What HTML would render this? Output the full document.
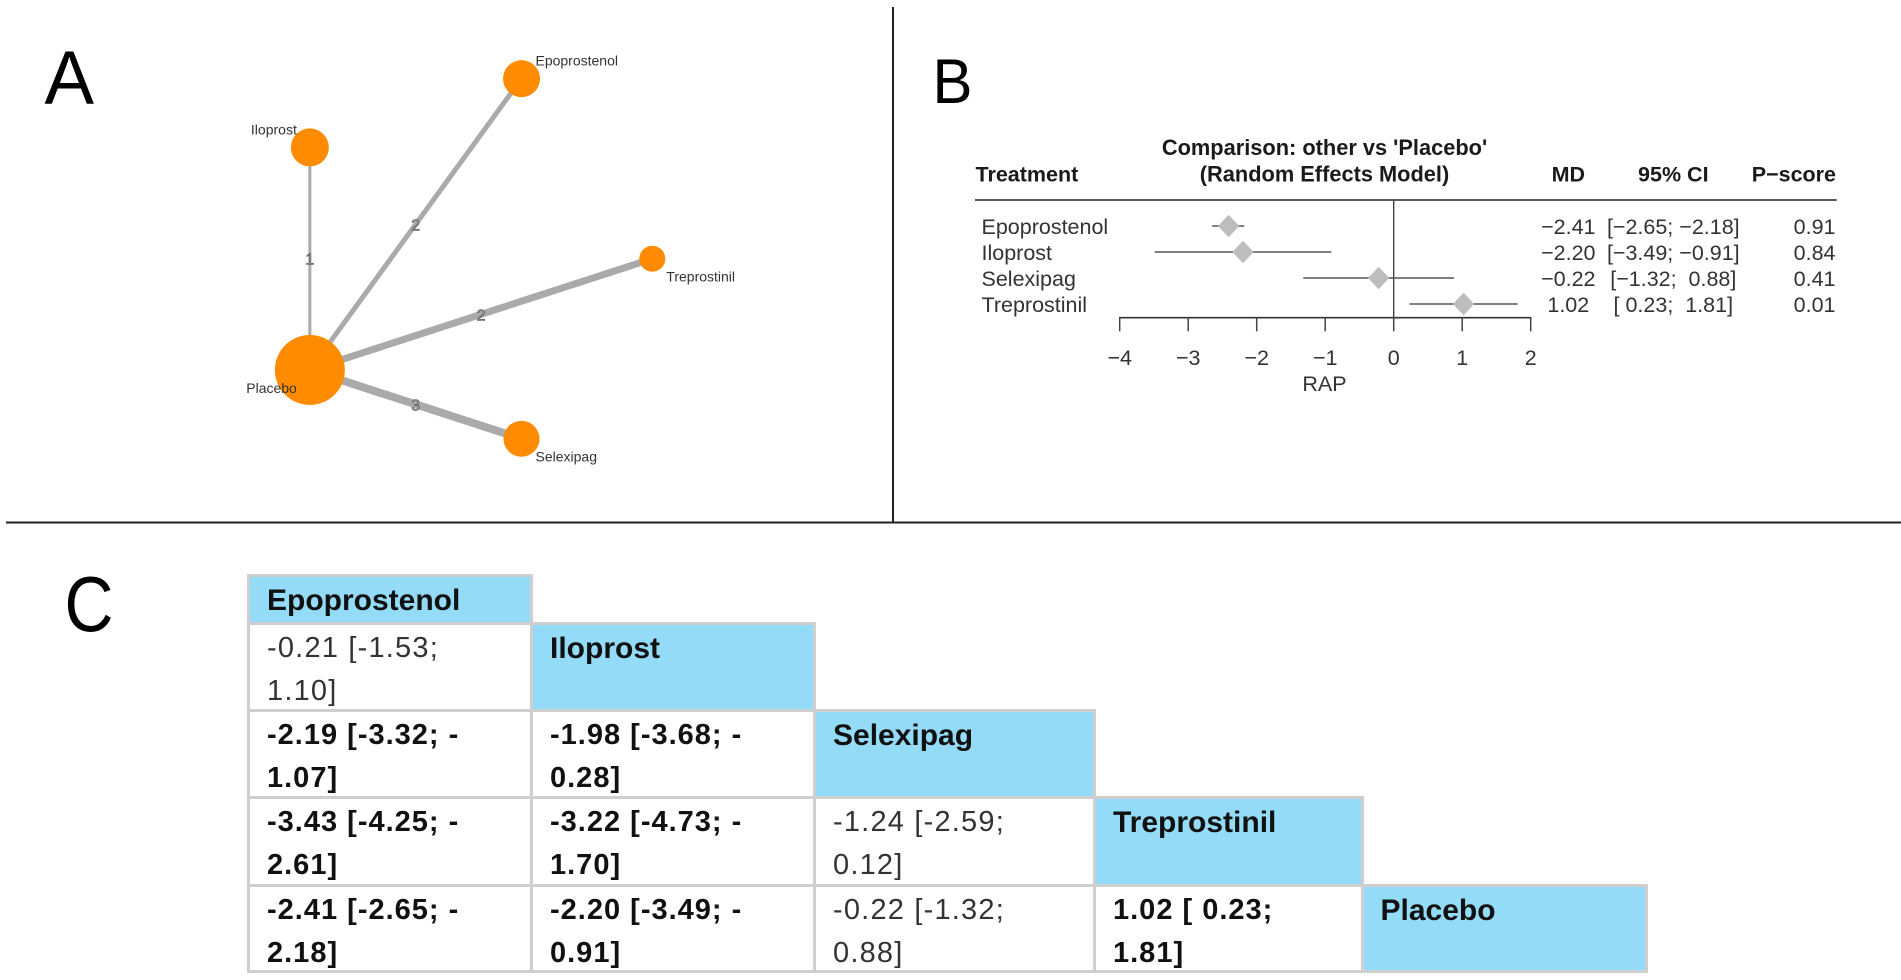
<!DOCTYPE html>
<html lang="en">
<head>
<meta charset="utf-8">
<title>Network meta-analysis of RAP</title>
<style>
  html, body { margin: 0; padding: 0; background: #fff; }
  body { width: 1901px; height: 980px; overflow: hidden; position: relative; font-family: "Liberation Sans", sans-serif; }
  #figure { position: absolute; left: 0; top: 0; filter: blur(0.35px); }
  #league {
    position: absolute; left: 247px; top: 574px; border-collapse: collapse; table-layout: fixed;
    width: 1397.5px; font-size: 29px; line-height: 43.3px; color: #333; letter-spacing: 1.2px; filter: blur(0.35px);
  }
  #league td { padding: 2px 0 0 17px; vertical-align: top; border: 3px solid #cfcfcf; box-sizing: border-box; white-space: nowrap; }
  #league td > span { display: block; height: 40px; overflow: visible; }
  #league td.blank { border: none; }
  #league td.head { background: #93dbf7; font-weight: bold; color: #111; font-size: 30px; letter-spacing: 0; }
  #league td.sig { font-weight: bold; color: #111; letter-spacing: 1px; }
</style>
</head>
<body>
<svg id="figure" width="1901" height="980" viewBox="0 0 1901 980" font-family="'Liberation Sans', sans-serif">
  <line x1="893" y1="7" x2="893" y2="523" stroke="#222" stroke-width="2"/>
  <line x1="6" y1="522.5" x2="1901" y2="522.5" stroke="#222" stroke-width="2"/>
  <text x="44.5" y="104" font-size="76.4" fill="#000" textLength="49.5" lengthAdjust="spacingAndGlyphs">A</text>
  <text x="932.5" y="103" font-size="63" fill="#000" textLength="40" lengthAdjust="spacingAndGlyphs">B</text>
  <text x="64.5" y="631" font-size="78" fill="#000" textLength="49" lengthAdjust="spacingAndGlyphs">C</text>
  <g id="network"></g>
  <g id="forest"></g>
</svg>

<table id="league">
  <colgroup><col style="width:283px"><col style="width:283px"><col style="width:280px"><col style="width:267.5px"><col style="width:284px"></colgroup>
  <tr style="height:48px">
    <td class="head"><span>Epoprostenol</span></td><td class="blank"></td><td class="blank"></td><td class="blank"></td><td class="blank"></td>
  </tr>
  <tr style="height:87px">
    <td><span>-0.21 [-1.53;<br>1.10]</span></td><td class="head"><span>Iloprost</span></td><td class="blank"></td><td class="blank"></td><td class="blank"></td>
  </tr>
  <tr style="height:87px">
    <td class="sig"><span>-2.19 [-3.32; -<br>1.07]</span></td><td class="sig"><span>-1.98 [-3.68; -<br>0.28]</span></td><td class="head"><span>Selexipag</span></td><td class="blank"></td><td class="blank"></td>
  </tr>
  <tr style="height:88px">
    <td class="sig"><span>-3.43 [-4.25; -<br>2.61]</span></td><td class="sig"><span>-3.22 [-4.73; -<br>1.70]</span></td><td><span>-1.24 [-2.59;<br>0.12]</span></td><td class="head"><span>Treprostinil</span></td><td class="blank"></td>
  </tr>
  <tr style="height:86px">
    <td class="sig"><span>-2.41 [-2.65; -<br>2.18]</span></td><td class="sig"><span>-2.20 [-3.49; -<br>0.91]</span></td><td><span>-0.22 [-1.32;<br>0.88]</span></td><td class="sig"><span>1.02 [ 0.23;<br>1.81]</span></td><td class="head"><span>Placebo</span></td>
  </tr>
</table>

<script>
// Network graph data (nodes sit on a circle in this order)
var networkNodes = ['Treprostinil', 'Epoprostenol', 'Iloprost', 'Placebo', 'Selexipag'];
var nodeSizes = [13, 18.5, 19, 35, 18];
var edgeTargets = ['Iloprost', 'Epoprostenol', 'Treprostinil', 'Selexipag'];
var edgeStudies = [1, 2, 2, 3];
var edgeWeights = [3, 5, 7, 8];
var hubNode = 'Placebo';

// Forest plot data
var forestTreatments = ['Epoprostenol', 'Iloprost', 'Selexipag', 'Treprostinil'];
var forestMD = [-2.41, -2.20, -0.22, 1.02];
var forestLower = [-2.65, -3.49, -1.32, 0.23];
var forestUpper = [-2.18, -0.91, 0.88, 1.81];
var forestPScore = [0.91, 0.84, 0.41, 0.01];
var axisTicks = [-4, -3, -2, -1, 0, 1, 2];

var SVGNS = 'http://www.w3.org/2000/svg';
function mk(parent, tag, attrs, txt) {
  var el = document.createElementNS(SVGNS, tag);
  for (var k in attrs) { el.setAttribute(k, attrs[k]); }
  if (txt !== undefined) { el.textContent = txt; }
  parent.appendChild(el);
  return el;
}
function slug(s) { return s.toLowerCase(); }

/* ---------- Panel A: network ---------- */
var net = document.getElementById('network');
var netCx = 463, netCy = 258.7, netR = 189.3;
function nodeX(i) { return netCx + netR * Math.cos(i * 2 * Math.PI / networkNodes.length); }
function nodeY(i) { return netCy - netR * Math.sin(i * 2 * Math.PI / networkNodes.length); }
var hubIdx = networkNodes.indexOf(hubNode);

edgeTargets.forEach(function (t, e) {
  var j = networkNodes.indexOf(t);
  var line = mk(net, 'line', { x1: nodeX(hubIdx), y1: nodeY(hubIdx), x2: nodeX(j), y2: nodeY(j), stroke: '#aaaaaa', 'stroke-width': edgeWeights[e] });
  
  
});
networkNodes.forEach(function (n, i) {
  var c = mk(net, 'circle', { cx: nodeX(i), cy: nodeY(i), r: nodeSizes[i], fill: '#ff8c00' });
  
  
});
networkNodes.forEach(function (n, i) {
  var right = Math.cos(i * 2 * Math.PI / networkNodes.length) >= 0;
  var up = Math.sin(i * 2 * Math.PI / networkNodes.length) > 0.01;
  var label = mk(net, 'text', {
    x: nodeX(i) + (right ? 14 : -13),
    y: nodeY(i) + (up ? -13 : 23),
    'font-size': 14, fill: '#333', 'text-anchor': right ? 'start' : 'end'
  }, n);
  
  
});
edgeTargets.forEach(function (t, e) {
  var j = networkNodes.indexOf(t);
  var mx = (nodeX(hubIdx) + nodeX(j)) / 2, my = (nodeY(hubIdx) + nodeY(j)) / 2;
  var lab = mk(net, 'text', { x: mx, y: my + 6, 'font-size': 16, 'text-anchor': 'middle', fill: '#b5b5b5', stroke: '#444', 'stroke-width': 0.55 }, String(edgeStudies[e]));
  
  
});

/* ---------- Panel B: forest plot ---------- */
var fo = document.getElementById('forest');
var FS = 21.5;
var zeroX = 1393.7, unitX = 68.5;
function xScale(v) { return zeroX + v * unitX; }
var rowTop = 226, rowStep = 26;
function rowY(i) { return rowTop + i * rowStep; }
var axisY = 317.7;
function num(v) { return v.toFixed(2).replace('-', '\u2212'); }
function pad(v) { return v < 0 ? num(v) : ' ' + num(v); }

var colTreatment = 975.5, colLabel = 981.5, colMD = 1568.3, colCI = 1673.3, colP = 1836, colPlotCenter = 1324.5;
var headY = 181.7;

var hTreat = mk(fo, 'text', { x: colTreatment, y: headY, 'font-size': FS, 'font-weight': 'bold', fill: '#1a1a1a' }, 'Treatment');


var hTitle1 = mk(fo, 'text', { x: colPlotCenter, y: 155, 'font-size': 21.8, 'font-weight': 'bold', fill: '#1a1a1a', 'text-anchor': 'middle' }, "Comparison: other vs 'Placebo'");


var hTitle2 = mk(fo, 'text', { x: colPlotCenter, y: headY, 'font-size': 21.8, 'font-weight': 'bold', fill: '#1a1a1a', 'text-anchor': 'middle' }, '(Random Effects Model)');


var hMD = mk(fo, 'text', { x: colMD, y: headY, 'font-size': FS, 'font-weight': 'bold', fill: '#1a1a1a', 'text-anchor': 'middle' }, 'MD');


var hCI = mk(fo, 'text', { x: colCI, y: headY, 'font-size': FS, 'font-weight': 'bold', fill: '#1a1a1a', 'text-anchor': 'middle' }, '95% CI');


var hP = mk(fo, 'text', { x: colP, y: headY, 'font-size': FS, 'font-weight': 'bold', fill: '#1a1a1a', 'text-anchor': 'end' }, 'P\u2212score');



var rule = mk(fo, 'line', { x1: 975, y1: 200, x2: 1836.7, y2: 200, stroke: '#444', 'stroke-width': 1.8 });


var refLine = mk(fo, 'line', { x1: xScale(0), y1: 200, x2: xScale(0), y2: axisY, stroke: '#444', 'stroke-width': 1.4 });



var axisLine = mk(fo, 'line', { x1: xScale(axisTicks[0]) - 0.7, y1: axisY, x2: xScale(axisTicks[axisTicks.length - 1]) + 0.7, y2: axisY, stroke: '#333', 'stroke-width': 1.6 });


axisTicks.forEach(function (t) {
  var tick = mk(fo, 'line', { x1: xScale(t), y1: axisY, x2: xScale(t), y2: axisY + 13.6, stroke: '#444', 'stroke-width': 1.5 });
  
  
  var tl = mk(fo, 'text', { x: xScale(t), y: 365, 'font-size': FS, fill: '#333', 'text-anchor': 'middle' }, String(t).replace('-', '\u2212'));
  
  
});
var axisTitle = mk(fo, 'text', { x: colPlotCenter, y: 391, 'font-size': FS, fill: '#333', 'text-anchor': 'middle' }, 'RAP');



forestTreatments.forEach(function (name, i) {
  var y = rowY(i);
  var base = y + 8;
  var lab = mk(fo, 'text', { x: colLabel, y: base, 'font-size': FS, fill: '#333' }, name);
  
  

  var ci = mk(fo, 'line', { x1: xScale(forestLower[i]), y1: y, x2: xScale(forestUpper[i]), y2: y, stroke: '#555', 'stroke-width': 1.5 });
  
  

  var cx = xScale(forestMD[i]);
  var d = mk(fo, 'polygon', { points: (cx - 10.6) + ',' + y + ' ' + cx + ',' + (y - 11.3) + ' ' + (cx + 10.6) + ',' + y + ' ' + cx + ',' + (y + 11.3), fill: '#bdbdbd' });
  
  

  var md = mk(fo, 'text', { x: colMD, y: base, 'font-size': FS, fill: '#333', 'text-anchor': 'middle' }, num(forestMD[i]));
  
  

  var cit = mk(fo, 'text', { x: colCI, y: base, 'font-size': FS, fill: '#333', 'text-anchor': 'middle', style: 'white-space:pre' }, '[' + pad(forestLower[i]) + '; ' + pad(forestUpper[i]) + ']');
  
  

  var ps = mk(fo, 'text', { x: colP - 0.5, y: base, 'font-size': FS, fill: '#333', 'text-anchor': 'end' }, forestPScore[i].toFixed(2));
  
  
});
</script>
</body>
</html>
